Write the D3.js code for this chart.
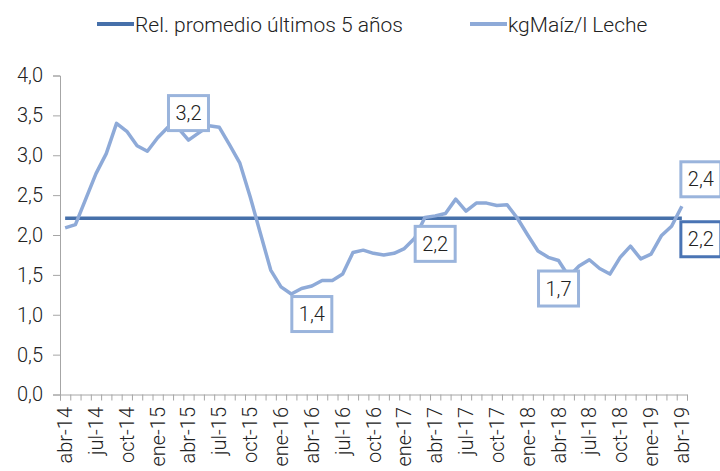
<!DOCTYPE html>
<html>
<head>
<meta charset="utf-8">
<title>kgMaiz / l Leche</title>
<script src="https://cdn.jsdelivr.net/npm/d3@7"></script>
<style>
  body { margin: 0; background: #fff; }
  text { font-family: Roboto, "Liberation Sans", sans-serif; fill: #222; }
  .axis path, .axis line { stroke: #a6a6a6; }
</style>
</head>
<body>
<div id="chart"></div>
<script>
// monthly relation kg maize per litre of milk, abr-14 .. abr-19
var tickLabels = ["abr-14","jul-14","oct-14","ene-15","abr-15","jul-15","oct-15","ene-16",
  "abr-16","jul-16","oct-16","ene-17","abr-17","jul-17","oct-17","ene-18","abr-18",
  "jul-18","oct-18","ene-19","abr-19"];
var ratio = [2.09,2.13,2.45,2.77,3.02,3.40,3.30,3.12,3.05,3.22,3.35,3.34,3.19,3.28,3.37,
  3.35,3.13,2.90,2.48,2.02,1.56,1.35,1.26,1.33,1.36,1.43,1.43,1.51,1.78,1.81,1.77,1.75,
  1.77,1.83,1.96,2.22,2.24,2.27,2.45,2.30,2.40,2.40,2.37,2.38,2.21,2.00,1.80,1.72,1.68,
  1.48,1.61,1.69,1.58,1.51,1.72,1.86,1.70,1.76,1.99,2.11,2.36];
var avg5 = 2.21;
var yTicks = [0,0.5,1,1.5,2,2.5,3,3.5,4];
// labelled points: index, text, side
var labels = [
  {i: 12, text: "3,2", side: "above"},
  {i: 24, text: "1,4", side: "below"},
  {i: 36, text: "2,2", side: "below"},
  {i: 48, text: "1,7", side: "below"}
];

var width = 720, height = 471;
var lightBlue = "#8eaad8", darkBlue = "#4670aa";
var fmt = function(v) { return d3.format(".1f")(v).replace(".", ","); };

var svg = d3.select("#chart").append("svg")
    .attr("width", width).attr("height", height);

var x = d3.scaleLinear().domain([-0.5, ratio.length - 0.5]).range([60, 687]);
var y = d3.scaleLinear().domain([0, 4]).range([394.5, 75.5]);

// y axis
svg.append("g").attr("class", "axis")
    .attr("transform", "translate(60,0)")
    .call(d3.axisLeft(y).tickValues(yTicks).tickSize(7).tickPadding(10).tickFormat(fmt))
    .call(function(g) {
      g.selectAll("text").style("font-size", "20px").style("font-weight", 300).attr("fill", "#222");
    });

// x axis: tick marks between categories
svg.append("g").attr("class", "axis")
    .attr("transform", "translate(0,394.5)")
    .call(d3.axisBottom(x).tickValues(d3.range(-0.5, ratio.length, 1)).tickSize(6).tickFormat(""));

// x labels every 3 months
svg.append("g").selectAll("text")
    .data(tickLabels)
    .enter().append("text")
    .attr("transform", function(d, k) { return "translate(" + (x(k * 3) + 7) + ",407) rotate(-90)"; })
    .attr("text-anchor", "end")
    .style("font-size", "20px")
    .style("font-weight", 300)
    .text(function(d) { return d; });

// average line
svg.append("line")
    .attr("x1", x(0)).attr("x2", x(ratio.length - 1))
    .attr("y1", y(avg5)).attr("y2", y(avg5))
    .attr("stroke", darkBlue).attr("stroke-width", 3.5);

// series line
var line = d3.line()
    .x(function(d, i) { return x(i); })
    .y(function(d) { return y(d); });
svg.append("path")
    .datum(ratio)
    .attr("d", line)
    .attr("fill", "none")
    .attr("stroke", lightBlue)
    .attr("stroke-width", 3.5)
    .attr("stroke-linejoin", "round");

function box(cx, cy, txt, color) {
  var bw = 40, bh = 35;
  svg.append("rect")
      .attr("x", cx - bw / 2).attr("y", cy - bh / 2)
      .attr("width", bw).attr("height", bh)
      .attr("fill", "#fff").attr("stroke", color).attr("stroke-width", 3);
  svg.append("text")
      .attr("x", cx).attr("y", cy + 7)
      .attr("text-anchor", "middle")
      .style("font-size", "20px").style("font-weight", 300)
      .text(txt);
}

labels.forEach(function(l) {
  var px = x(l.i), py = y(ratio[l.i]);
  var cy = l.side === "above" ? py - 27 : py + 28;
  box(px, cy, l.text, "#9ab4dc");
});
// end labels
var last = ratio.length - 1;
box(x(last) + 19, y(ratio[last]) - 27, fmt(ratio[last]), "#9ab4dc");
box(x(last) + 19, y(avg5) + 21, fmt(avg5), "#4a74b4");

// legend
var legend = [
  {name: "Rel. promedio últimos 5 años", color: darkBlue, x: 97},
  {name: "kgMaíz/l Leche", color: lightBlue, x: 470}
];
var lg = svg.append("g").selectAll("g").data(legend).enter().append("g")
    .attr("transform", function(d) { return "translate(" + d.x + ",24)"; });
lg.append("line").attr("x1", 0).attr("x2", 37)
    .attr("stroke", function(d) { return d.color; }).attr("stroke-width", 4);
lg.append("text").attr("x", 38).attr("y", 7.5)
    .style("font-size", "21px").style("font-weight", 300)
    .text(function(d) { return d.name; });
</script>
</body>
</html>
